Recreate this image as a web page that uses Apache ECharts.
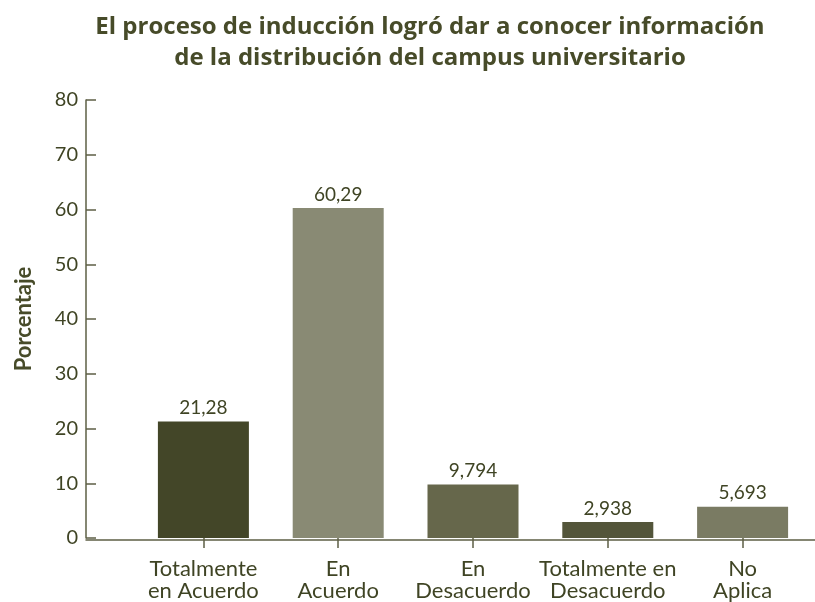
<!DOCTYPE html>
<html>
<head>
<meta charset="utf-8">
<script src="https://cdn.jsdelivr.net/npm/echarts@6/dist/echarts.min.js"></script>
<style>
html, body { margin: 0; padding: 0; background: #fff; }
#chart { width: 815px; height: 602px; }
</style>
</head>
<body>
<div id="chart"></div>
<script>
var categories = ['Totalmente\nen Acuerdo', 'En\nAcuerdo', 'En\nDesacuerdo', 'Totalmente en\nDesacuerdo', 'No\nAplica'];
var values = [21.28, 60.29, 9.794, 2.938, 5.693];
var valueLabels = ['21,28', '60,29', '9,794', '2,938', '5,693'];
var barColors = ['#434628', '#898a74', '#66674b', '#53553a', '#7a7b63'];

var textColor = '#3f4424';
var lineColor = '#5d5f45';
var font = 'Lato';

var chart = echarts.init(document.getElementById('chart'));

var option = {
    backgroundColor: '#fff',
    animation: false,
    title: {
        text: 'El proceso de inducción logró dar a conocer información\nde la distribución del campus universitario',
        left: 425,
        top: 7,
        textAlign: 'center',
        textStyle: {
            color: '#474b29',
            fontFamily: 'Open Sans',
            fontSize: 24,
            fontWeight: 'bold',
            lineHeight: 31
        }
    },
    grid: [
        {left: 136, right: 5, top: 100, bottom: 62},
        {left: 86, right: 0, top: 100, bottom: 62}
    ],
    xAxis: [
        {
            type: 'category',
            gridIndex: 0,
            data: categories,
            axisLine: {show: false},
            axisTick: {show: true, alignWithLabel: true, length: 10, lineStyle: {color: lineColor, width: 1.5}},
            axisLabel: {
                color: textColor,
                fontFamily: font,
                fontSize: 22,
                lineHeight: 22,
                margin: 20,
                interval: 0
            }
        },
        {
            type: 'value',
            gridIndex: 1,
            min: 0,
            max: 1,
            axisLine: {show: true, lineStyle: {color: lineColor, width: 1.5}},
            axisTick: {show: false},
            axisLabel: {show: false},
            splitLine: {show: false}
        }
    ],
    yAxis: [
        {
            type: 'value',
            gridIndex: 0,
            min: 0,
            max: 80,
            interval: 10,
            offset: 50,
            name: 'Porcentaje',
            nameLocation: 'middle',
            nameGap: 51,
            nameTextStyle: {color: '#474b29', fontFamily: font, fontSize: 22, fontWeight: 'bold'},
            axisLine: {show: true, lineStyle: {color: lineColor, width: 1.5}},
            axisTick: {show: true, inside: true, length: 10, lineStyle: {color: lineColor, width: 1.5}},
            axisLabel: {color: textColor, fontFamily: font, fontSize: 20, margin: 8},
            splitLine: {show: false}
        },
        {
            type: 'value',
            gridIndex: 1,
            show: false
        }
    ],
    series: [
        {
            type: 'bar',
            xAxisIndex: 0,
            yAxisIndex: 0,
            barWidth: 91,
            data: values.map(function (v, i) {
                return {value: v, itemStyle: {color: barColors[i]}};
            }),
            label: {
                show: true,
                position: 'top',
                distance: 4,
                color: textColor,
                fontFamily: font,
                fontSize: 19,
                formatter: function (p) {
                    return valueLabels[p.dataIndex];
                }
            }
        }
    ]
};
chart.setOption(option);
</script>
</body>
</html>
